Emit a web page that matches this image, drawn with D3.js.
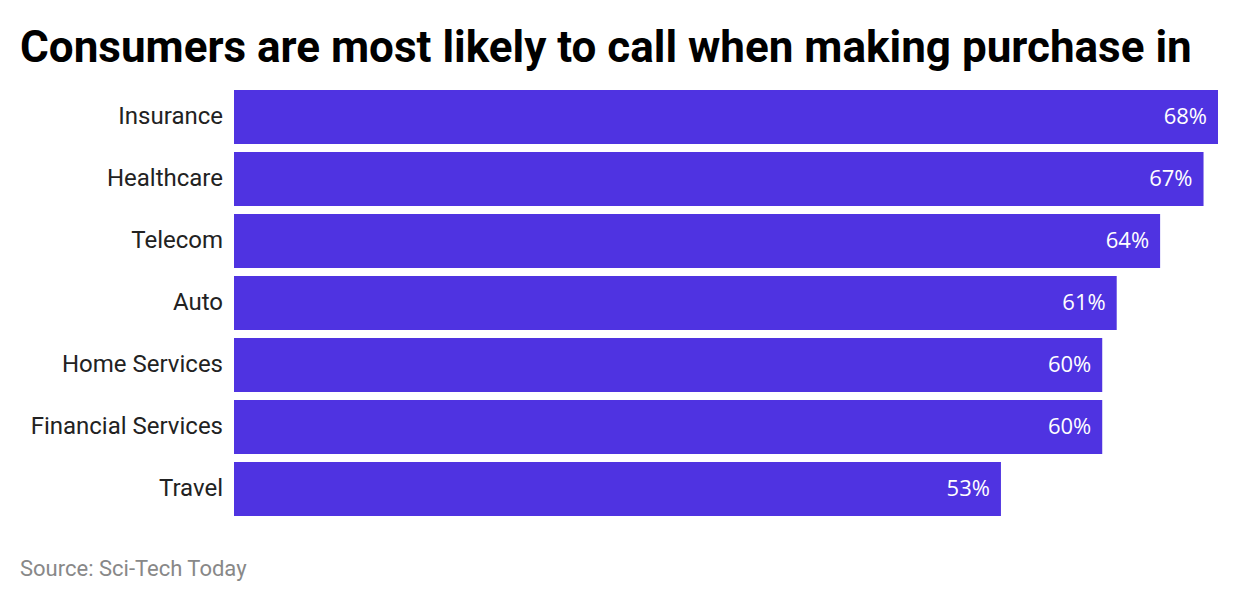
<!DOCTYPE html>
<html><head><meta charset="utf-8">
<script src="https://cdn.jsdelivr.net/npm/d3@7/dist/d3.min.js"></script>
<style>body{margin:0;background:#fff}</style>
</head><body>
<svg id="chart" width="1240" height="602"></svg>
<script>
const categories = ["Insurance","Healthcare","Telecom","Auto","Home Services","Financial Services","Travel"];
const values = [68,67,64,61,60,60,53];
const title = "Consumers are most likely to call when making purchase in";
const source = "Source: Sci-Tech Today";

const svg = d3.select("#chart");
const x = d3.scaleLinear().domain([0,68]).range([234,1218]);
const y = d3.scaleBand().domain(categories).range([90,516]).paddingInner(8/62).paddingOuter(0);

svg.append("text").attr("x",20).attr("y",62)
  .attr("font-family","Roboto").attr("font-weight",700).attr("font-size",44)
  .attr("fill","#000").text(title);

svg.append("g").selectAll("rect").data(values).join("rect")
  .attr("x",x(0)).attr("y",(d,i)=>y(categories[i]))
  .attr("width",d=>x(d)-x(0)).attr("height",y.bandwidth())
  .attr("fill","#4f33e1");

svg.append("g").selectAll("text").data(categories).join("text")
  .attr("x",223).attr("y",d=>y(d)+y.bandwidth()/2)
  .attr("dy","0.31em").attr("text-anchor","end")
  .attr("font-family","Roboto").attr("font-size",24).attr("fill","#222")
  .text(d=>d);

svg.append("g").selectAll("text").data(values).join("text")
  .attr("x",d=>x(d)-11).attr("y",(d,i)=>y(categories[i])+y.bandwidth()/2)
  .attr("dy","0.34em").attr("text-anchor","end")
  .attr("font-family","Open Sans").attr("font-size",22).attr("fill","#fff")
  .text(d=>d+"%");

svg.append("text").attr("x",20).attr("y",576)
  .attr("font-family","Roboto").attr("font-size",22).attr("fill","#888")
  .text(source);
</script>
</body></html>
